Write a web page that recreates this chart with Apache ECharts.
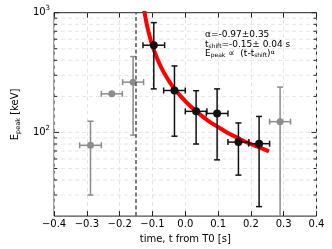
<!DOCTYPE html>
<html>
<head>
<meta charset="utf-8">
<script src="https://cdn.jsdelivr.net/npm/echarts@6/dist/echarts.min.js"></script>
<style>html,body{margin:0;padding:0;background:#fff}#c{width:332px;height:249px}</style>
</head>
<body>
<div id="c"></div>
<script>
// ---- data ----
const xTicks = [-0.4, -0.3, -0.2, -0.1, 0.0, 0.1, 0.2, 0.3, 0.4];
const yMajor = [100, 1000];
const yMinor = [30, 40, 50, 60, 70, 80, 90, 200, 300, 400, 500, 600, 700, 800, 900];

const grayT    = [-0.289, -0.224, -0.159, 0.289];
const grayE    = [78, 210, 263, 123];
const grayTErr = [0.033, 0.032, 0.032, 0.032];
const grayELo  = [30, null, 95, 10];
const grayEHi  = [124, null, 430, 239];

const blackT    = [-0.096, -0.033, 0.033, 0.097, 0.162, 0.225];
const blackE    = [535, 224, 150, 144, 83, 80.5];
const blackTErr = [0.033, 0.033, 0.033, 0.033, 0.032, 0.032];
const blackELo  = [231, 93, 80, 59, 44, 24];
const blackEHi  = [826, 359, 223, 231, 120, 136];

const fitT = [-0.125, -0.12, -0.115, -0.11, -0.105, -0.10, -0.09, -0.08, -0.07, -0.06, -0.045, -0.03, -0.01, 0.01, 0.04, 0.07, 0.10, 0.13, 0.16, 0.19, 0.22, 0.255];
const fitE = [1035, 867, 747, 656, 585, 528, 443, 381, 335, 299, 257, 226, 195, 171, 145, 125, 111, 99, 90, 82, 76, 69.5];

const tShift = -0.15;

// ---- build ----
function rows(t, e, dt, lo, hi) {
  return t.map((v, i) => [v, e[i], dt[i], lo[i] == null ? NaN : lo[i], hi[i] == null ? NaN : hi[i]]);
}
function makeErr(color, r, lw) {
  return function (params, api) {
    const cs = params.coordSys;
    const t = api.value(0), e = api.value(1), dt = api.value(2), lo = api.value(3), hi = api.value(4);
    const c = api.coord([t, e]);
    const pl = api.coord([t - dt, e]), pr = api.coord([t + dt, e]);
    const ls = { stroke: color, lineWidth: lw };
    const ch = [];
    const cap = 3;
    ch.push({ type: 'line', shape: { x1: pl[0], y1: c[1], x2: pr[0], y2: c[1] }, style: ls });
    ch.push({ type: 'line', shape: { x1: pl[0], y1: c[1] - cap, x2: pl[0], y2: c[1] + cap }, style: ls });
    ch.push({ type: 'line', shape: { x1: pr[0], y1: c[1] - cap, x2: pr[0], y2: c[1] + cap }, style: ls });
    if (isFinite(lo) && isFinite(hi)) {
      let yl = api.coord([t, lo])[1], yh = api.coord([t, hi])[1];
      const yb = cs.y + cs.height;
      let capLo = true;
      if (yl > yb) { yl = yb; capLo = false; }
      ch.push({ type: 'line', shape: { x1: c[0], y1: yh, x2: c[0], y2: yl }, style: ls });
      ch.push({ type: 'line', shape: { x1: c[0] - cap, y1: yh, x2: c[0] + cap, y2: yh }, style: ls });
      if (capLo) ch.push({ type: 'line', shape: { x1: c[0] - cap, y1: yl, x2: c[0] + cap, y2: yl }, style: ls });
    }
    ch.push({ type: 'circle', shape: { cx: c[0], cy: c[1], r: r }, style: { fill: color } });
    return { type: 'group', children: ch };
  };
}
const gridVals = yMajor.map(v => [0, v, 1]).concat(yMinor.map(v => [0, v, 0]));

const chart = echarts.init(document.getElementById('c'), null, { renderer: 'canvas' });
const axisColor = '#222';
const gridColor = '#e4e4e4';
chart.setOption({
  animation: false,
  backgroundColor: '#fff',
  grid: { left: 42.5, right: 15.5, top: 12.7, bottom: 31.7, show: true, borderColor: axisColor, borderWidth: 1, backgroundColor: 'transparent' },
  title: {
    left: 205, top: 30, padding: 0,
    text: '{t|α=-0.97±0.35}\n{t|t}{s|shift}{t|=-0.15± 0.04 s}\n{t|E}{s|peak}{t| ∝  (t-t}{s|shift}{t|)}{u|α}',
    textStyle: {
      fontWeight: 'normal',
      rich: {
        t: { fontFamily: 'DejaVu Sans', fontSize: 9, fontWeight: 'normal', color: '#000', lineHeight: 9.5 },
        s: { fontFamily: 'DejaVu Sans', fontSize: 6, fontWeight: 'normal', color: '#000', lineHeight: 5, verticalAlign: 'bottom' },
        u: { fontFamily: 'DejaVu Sans', fontSize: 6, fontWeight: 'normal', color: '#000', lineHeight: 5, verticalAlign: 'top' }
      }
    }
  },
  xAxis: [{
    type: 'value', min: -0.4, max: 0.4, interval: 0.1,
    name: 'time, t from T0 [s]', nameLocation: 'middle', nameGap: 17,
    nameTextStyle: { fontFamily: 'DejaVu Sans', fontSize: 10, color: '#000' },
    axisLine: { show: false },
    axisTick: { show: true, inside: true, length: 5, lineStyle: { color: axisColor } },
    axisLabel: { margin: 3, fontFamily: 'DejaVu Sans', fontSize: 10, color: '#000',
      formatter: v => (Math.abs(v) < 1e-9 ? '0.0' : v.toFixed(1)).replace('-', '\u2212') },
    splitLine: { show: true, lineStyle: { color: gridColor, type: [4, 3], width: 1 } }
  }, {
    type: 'value', min: -0.4, max: 0.4, interval: 0.1, position: 'top',
    axisLine: { show: false },
    axisTick: { show: true, inside: true, length: 5, lineStyle: { color: axisColor } },
    axisLabel: { show: false }, splitLine: { show: false }
  }],
  yAxis: {
    type: 'log', logBase: 10, min: 20, max: 1000,
    name: 'E{s|peak} [keV]', nameLocation: 'middle', nameGap: 28,
    nameTextStyle: { fontFamily: 'DejaVu Sans', fontSize: 10, color: '#000', lineHeight: 14,
      rich: { s: { fontFamily: 'DejaVu Sans', fontSize: 6.5, color: '#000', lineHeight: 7, verticalAlign: 'bottom' } } },
    axisLine: { show: false }, axisTick: { show: false }, splitLine: { show: false },
    axisLabel: { margin: 4, fontFamily: 'DejaVu Sans', fontSize: 10, color: '#000',
      formatter: v => { const k = Math.log10(v); return Math.abs(k - Math.round(k)) < 1e-6 ? '10{s|' + Math.round(k) + '}' : ''; },
      rich: { s: { fontFamily: 'DejaVu Sans', fontSize: 7, color: '#000', lineHeight: 8, verticalAlign: 'top' } },
      lineHeight: 16 }
  },
  series: [
    { type: 'custom', z: 1, silent: true, data: gridVals,
      renderItem: (params, api) => {
        const cs = params.coordSys;
        const y = api.coord([0, api.value(1)])[1];
        const len = api.value(2) ? 5 : 3;
        const ch = [];
        if (y > cs.y + 0.5 && y < cs.y + cs.height - 0.5) {
          ch.push({ type: 'line', shape: { x1: cs.x, y1: y, x2: cs.x + cs.width, y2: y }, style: { stroke: gridColor, lineWidth: 1, lineDash: [4, 3] } });
        }
        ch.push({ type: 'line', shape: { x1: cs.x, y1: y, x2: cs.x + len, y2: y }, style: { stroke: axisColor, lineWidth: 1 } });
        ch.push({ type: 'line', shape: { x1: cs.x + cs.width - len, y1: y, x2: cs.x + cs.width, y2: y }, style: { stroke: axisColor, lineWidth: 1 } });
        return { type: 'group', children: ch };
      } },
    { type: 'custom', z: 3, silent: true, data: rows(grayT, grayE, grayTErr, grayELo, grayEHi), renderItem: makeErr('#8c8c8c', 3.5, 1.5) },
    { type: 'line', z: 4, silent: true, data: fitT.map((t, i) => [t, fitE[i]]), showSymbol: false, smooth: 0.3,
      lineStyle: { color: '#ff0000', width: 4 },
      markLine: { silent: true, symbol: 'none', label: { show: false },
        lineStyle: { color: '#555', type: [4, 2.5], width: 1.5 },
        data: [{ xAxis: tShift }] } },
    { type: 'custom', z: 5, silent: true, data: rows(blackT, blackE, blackTErr, blackELo, blackEHi), renderItem: makeErr('#111', 4, 1.5) }
  ]
});
</script>
</body>
</html>
